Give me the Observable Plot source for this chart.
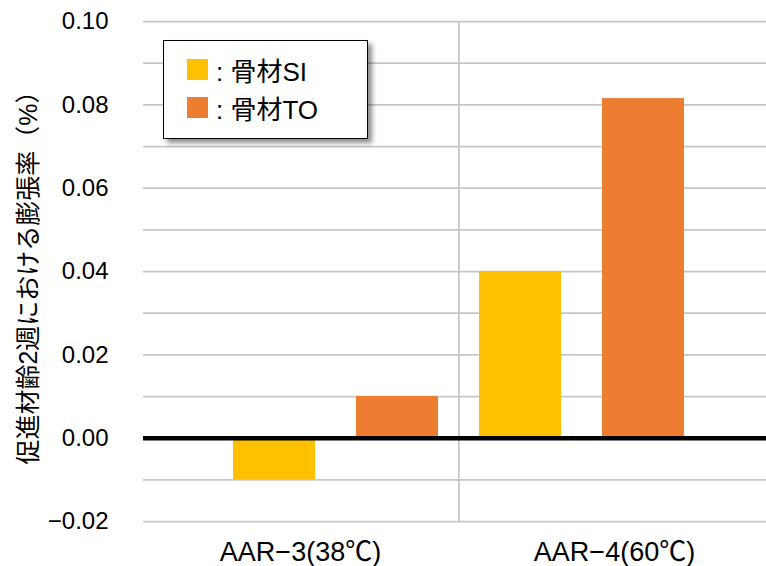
<!DOCTYPE html>
<html>
<head>
<meta charset="utf-8">
<script src="https://cdn.jsdelivr.net/npm/d3@7"></script>
<script src="https://cdn.jsdelivr.net/npm/@observablehq/plot@0.6"></script>
<style>
  html, body { margin: 0; padding: 0; background: #fff; overflow: hidden; }
  #wrap { position: relative; width: 766px; height: 566px; font-family: "Liberation Sans", "Noto Sans CJK JP", sans-serif; }
  #legend {
    position: absolute; left: 163px; top: 40px; width: 203px; height: 97px;
    border: 1.5px solid #000; background: #fff;
    box-shadow: 4px 4px 5px rgba(0,0,0,0.45);
  }
  .item { position: absolute; left: 23px; display: flex; align-items: center; font-size: 26px; color: #000; }
  .sw { width: 21px; height: 21px; margin-right: 8px; }
</style>
</head>
<body>
<div id="wrap"><div id="legend"></div></div>
<script>
// Expansion at 2 weeks of accelerated curing, by test condition and aggregate
const categories = ["AAR−3(38℃)", "AAR−4(60℃)"];
const seriesNames = ["骨材SI", "骨材TO"];
const seriesColors = ["#FFC000", "#ED7D31"];
const valuesSI = [-0.010, 0.040];
const valuesTO = [0.010, 0.0815];
const yTickValues = [-0.02, 0.00, 0.02, 0.04, 0.06, 0.08, 0.10];
const gridValues = [-0.02, -0.01, 0.00, 0.01, 0.02, 0.03, 0.04, 0.05, 0.06, 0.07, 0.08, 0.09, 0.10];
const yTitle = "促進材齢2週における膨張率（%）";

const seriesValues = [valuesSI, valuesTO];
const rows = [];
categories.forEach((c, i) => {
  seriesNames.forEach((s, j) => {
    rows.push({category: c, series: s, key: c + "|" + s, value: seriesValues[j][i]});
  });
});
const slots = rows.map(d => d.key);

const W = 766, H = 566;
const ml = 143, mr = 0, mt = 21, mb = 45;
const xRange = [212.5, 705.5];
const step = (xRange[1] - xRange[0]) / slots.length;
const font = "'Liberation Sans', 'Noto Sans CJK JP', sans-serif";

const chart = Plot.plot({
  width: W,
  height: H,
  marginLeft: ml,
  marginRight: mr,
  marginTop: mt,
  marginBottom: mb,
  style: {fontFamily: font, color: "#000", background: "#fff"},
  x: {domain: slots, range: xRange, paddingInner: 0.33, paddingOuter: 0.165},
  y: {domain: [-0.02, 0.10]},
  color: {domain: seriesNames, range: seriesColors},
  marks: [
    Plot.ruleY(gridValues, {stroke: "#c6c6c6", strokeWidth: 1.75}),
    // divider between the two conditions
    Plot.ruleX([slots[2]], {dx: -step / 2, y1: -0.02, y2: 0.10, stroke: "#c6c6c6", strokeWidth: 1.75}),
    Plot.barY(rows, {x: "key", y: "value", fill: "series"}),
    Plot.ruleY([0], {stroke: "#000", strokeWidth: 4.5}),
    Plot.axisY(yTickValues, {tickSize: 0, tickPadding: 35, fontSize: 24, tickFormat: d3.format(".2f"), label: null}),
    Plot.axisX([slots[0]], {tickSize: 0, tickPadding: 20, fontSize: 27, letterSpacing: "1px", dx: 26, tickFormat: () => categories[0], label: null}),
    Plot.axisX([slots[3]], {tickSize: 0, tickPadding: 20, fontSize: 27, letterSpacing: "1px", dx: -29, tickFormat: () => categories[1], label: null}),
    Plot.text([yTitle], {frameAnchor: "left", textAnchor: "middle", lineAnchor: "middle", rotate: -90, dx: -115, fontSize: 25, fill: "#000"})
  ]
});
document.getElementById("wrap").prepend(chart);

const legend = document.getElementById("legend");
seriesNames.forEach((s, i) => {
  const item = document.createElement("div");
  item.className = "item";
  item.style.top = (i === 0 ? 10 : 48) + "px";
  item.innerHTML = `<span class="sw" style="background:${seriesColors[i]}"></span><span>:&nbsp;${s}</span>`;
  legend.appendChild(item);
});
</script>
</body>
</html>
